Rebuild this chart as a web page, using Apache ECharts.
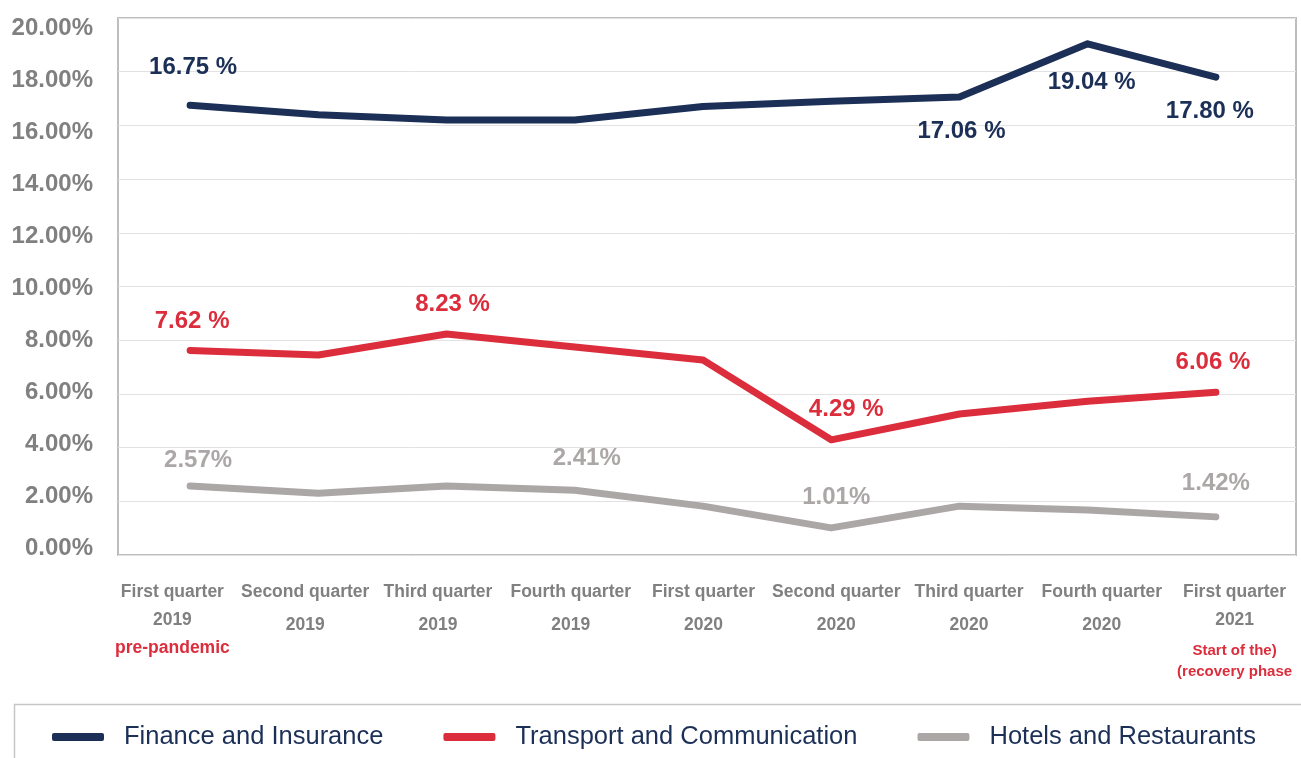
<!DOCTYPE html>
<html lang="en">
  <head>
    <meta charset="UTF-8" />
    <title>Sector shares by quarter</title>
    <script src="https://cdn.jsdelivr.net/npm/echarts@6/dist/echarts.min.js"></script>
    <style>
      html, body { margin: 0; padding: 0; background: #fff; }
      #chart { width: 1301px; height: 758px; }
    </style>
  </head>
  <body>
    <div id="chart"></div>

    <script>
      const quarters = ["First quarter", "Second quarter", "Third quarter", "Fourth quarter", "First quarter", "Second quarter", "Third quarter", "Fourth quarter", "First quarter"];
      const years = ["2019", "2019", "2019", "2019", "2020", "2020", "2020", "2020", "2021"];
      const categories = quarters.map((q, i) => q + " " + years[i]);
      const phaseNotes = { 0: ["pre-pandemic"], 8: ["Start of the)", "(recovery phase"] };

      const yTicks = [0, 2, 4, 6, 8, 10, 12, 14, 16, 18, 20];

      const finance = [16.75, 16.4, 16.2, 16.2, 16.7, 16.9, 17.06, 19.04, 17.8];
      const transport = [7.62, 7.45, 8.23, 7.75, 7.26, 4.29, 5.25, 5.73, 6.06];
      const hotels = [2.57, 2.3, 2.57, 2.41, 1.82, 1.01, 1.82, 1.68, 1.42];

      const seriesNames = ["Finance and Insurance", "Transport and Communication", "Hotels and Restaurants"];

      // which points carry a value label, and where the label sits
      const labelSpots = [
        { 0: [3, -38], 6: [2, 34], 7: [4, 39], 8: [-6, 34] },
        { 0: [2, -29], 2: [6, -30], 5: [15, -30], 8: [-3, -30] },
        { 0: [8, -26], 3: [12, -32], 5: [5, -31], 8: [0, -33] },
      ];
      const colors = ["#1b2f57", "#dc2d3c", "#aca7a7"];
      const labelFmt = [
        (v) => v.toFixed(2) + " %",
        (v) => v.toFixed(2) + " %",
        (v) => v.toFixed(2) + "%",
      ];

      const font = "'Liberation Sans', Arial, Helvetica, sans-serif";

      const makeSeries = (values, k) => ({
        name: seriesNames[k],
        type: "line",
        xAxisIndex: 1,
        yAxisIndex: 1,
        symbol: "circle",
        symbolSize: 6,
        itemStyle: { color: colors[k] },
        lineStyle: { width: 7, color: colors[k], cap: "round", join: "round" },
        emphasis: { disabled: true },
        data: values.map((v, i) => {
          const spot = labelSpots[k][i];
          if (!spot) return v;
          return {
            value: v,
            label: {
              show: true,
              position: "inside",
              offset: spot,
              formatter: () => labelFmt[k](v),
              color: colors[k],
              fontSize: 24,
              fontWeight: "bold",
              fontFamily: font,
            },
          };
        }),
      });

      const grey = "#808080";
      const red = "#dc2d3c";

      const chart = echarts.init(document.getElementById("chart"));
      chart.setOption({
        animation: false,
        textStyle: { fontFamily: font },
        grid: [
          // plot frame and gridlines
          { left: 118, right: 5, top: 18, bottom: 203, show: true, borderColor: "#bdbdbd", borderWidth: 2 },
          // lines
          { left: 126, right: 21, top: 18, bottom: 203 },
          // category labels
          { left: 106, right: -8, top: 18, bottom: 203 },
          // percentage labels
          { left: 118, right: 5, top: 28, bottom: 210 },
        ],
        xAxis: [
          { gridIndex: 0, type: "category", data: categories, show: false },
          { gridIndex: 1, type: "category", data: categories, show: false },
          {
            gridIndex: 2,
            type: "category",
            data: categories,
            axisLine: { show: false },
            axisTick: { show: false },
            axisLabel: {
              interval: 0,
              margin: 23,
              formatter: (value, i) => {
                const notes = phaseNotes[i];
                if (!notes) return "{q|" + quarters[i] + "}\n{y2|" + years[i] + "}";
                let s = "{q|" + quarters[i] + "}\n{y1|" + years[i] + "}";
                if (notes.length === 1) s += "\n{n0|" + notes[0] + "}";
                else s += "\n{n1|" + notes[0] + "}\n{n2|" + notes[1] + "}";
                return s;
              },
              rich: {
                q: { fontSize: 17.5, fontWeight: "bold", color: grey, lineHeight: 28, fontFamily: font },
                y1: { fontSize: 17.5, fontWeight: "bold", color: grey, lineHeight: 28, fontFamily: font },
                y2: { fontSize: 17.5, fontWeight: "bold", color: grey, lineHeight: 38, fontFamily: font },
                n0: { fontSize: 17.5, fontWeight: "bold", color: red, lineHeight: 28, fontFamily: font },
                n1: { fontSize: 15, fontWeight: "bold", color: red, lineHeight: 34, fontFamily: font },
                n2: { fontSize: 15, fontWeight: "bold", color: red, lineHeight: 8, fontFamily: font },
              },
            },
          },
          { gridIndex: 3, type: "category", data: categories, show: false },
        ],
        yAxis: [
          {
            gridIndex: 0,
            type: "value",
            min: yTicks[0],
            max: yTicks[yTicks.length - 1],
            interval: yTicks[1] - yTicks[0],
            axisLine: { show: false },
            axisTick: { show: false },
            axisLabel: { show: false },
            splitLine: { lineStyle: { color: "#e2e2e2", width: 1 } },
          },
          { gridIndex: 1, type: "value", min: yTicks[0], max: yTicks[yTicks.length - 1], show: false },
          { gridIndex: 2, type: "value", show: false },
          {
            gridIndex: 3,
            type: "value",
            min: yTicks[0],
            max: yTicks[yTicks.length - 1],
            interval: yTicks[1] - yTicks[0],
            axisLine: { show: false },
            axisTick: { show: false },
            splitLine: { show: false },
            axisLabel: {
              margin: 25,
              color: grey,
              fontSize: 24,
              fontWeight: "bold",
              fontFamily: font,
              formatter: (v) => v.toFixed(2) + "%",
            },
          },
        ],
        legend: {
          left: 52,
          top: 723,
          padding: 0,
          itemWidth: 52,
          itemHeight: 8,
          itemGap: 60,
          icon: "roundRect",
          selectedMode: false,
          data: seriesNames,
          textStyle: { fontSize: 25.5, color: "#1b2f57", lineHeight: 28, padding: [0, 0, 0, 15], fontFamily: font },
        },
        graphic: [
          {
            type: "rect",
            left: 12,
            top: 702,
            shape: { width: 1288, height: 70 },
            style: { fill: "none", stroke: "#c6c6c6", lineWidth: 1.5 },
            silent: true,
          },
        ],
        series: [makeSeries(finance, 0), makeSeries(transport, 1), makeSeries(hotels, 2)],
      });
    </script>
  </body>
</html>
